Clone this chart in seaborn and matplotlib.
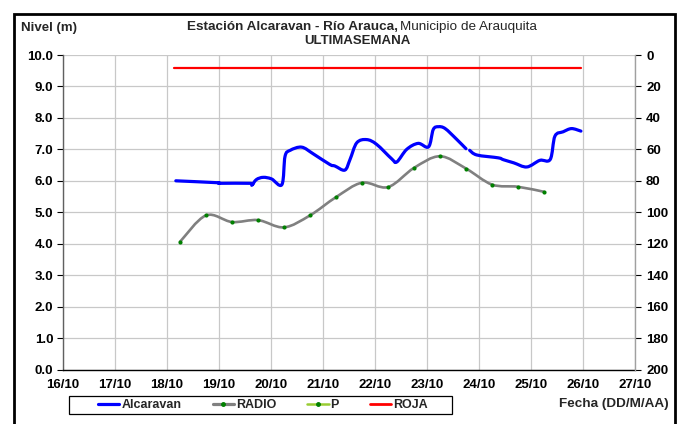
import numpy as np
import matplotlib
matplotlib.use("Agg")
import matplotlib.pyplot as plt
from matplotlib.path import Path
from matplotlib.patches import PathPatch, Rectangle
from matplotlib.lines import Line2D
import seaborn as sns

# Alcaravan level (m), day of October; the record has a short gap near 23.8
alc_days_a = [18.17, 18.96, 19.02, 19.60, 19.63, 19.72, 19.85, 20.01, 20.21, 20.27,
              20.37, 20.59, 20.81, 21.13, 21.23, 21.42, 21.52, 21.65, 21.84, 22.03,
              22.32, 22.42, 22.61, 22.83, 23.03, 23.12, 23.22, 23.35, 23.57, 23.75]
alc_vals_a = [6.00, 5.94, 5.92, 5.92, 5.86, 6.04, 6.11, 6.06, 5.88, 6.78,
              6.97, 7.07, 6.86, 6.52, 6.47, 6.34, 6.68, 7.21, 7.31, 7.16,
              6.70, 6.60, 7.00, 7.19, 7.08, 7.63, 7.72, 7.66, 7.32, 7.02]
alc_days_b = [23.82, 23.96, 24.37, 24.47, 24.67, 24.92, 25.17, 25.37, 25.46, 25.62,
              25.78, 25.96]
alc_vals_b = [6.97, 6.82, 6.73, 6.67, 6.57, 6.44, 6.65, 6.68, 7.42, 7.56,
              7.66, 7.58]

# RADIO readings (P points)
radio_days = [18.25, 18.75, 19.25, 19.75, 20.25, 20.75, 21.25, 21.75,
              22.25, 22.75, 23.25, 23.75, 24.25, 24.75, 25.25]
radio_vals = [4.06, 4.90, 4.69, 4.75, 4.52, 4.90, 5.48, 5.94,
              5.80, 6.41, 6.78, 6.39, 5.88, 5.81, 5.65]

# Red alert threshold (ROJA)
roja_days = [18.13, 25.96]
roja_vals = [9.6, 9.6]

day_ticks = list(range(16, 28))
day_labels = [f"{d}/10" for d in day_ticks]
level_ticks = [i * 1.0 for i in range(11)]
precip_ticks = list(range(0, 201, 20))

BLUE = "#0000FF"
GRAY = "#808080"
GREEN = "#008000"
LGREEN = "#99CC33"
RED = "#FF0000"

sns.set_style("white")
plt.rcParams["font.family"] = ["Liberation Sans", "DejaVu Sans"]
plt.rcParams["font.weight"] = "bold"


def smooth_path(xs, ys):
    """Cubic Bezier path through the points (smoothed-line style)."""
    pts = np.column_stack([xs, ys]).astype(float)
    n = len(pts)
    verts = [pts[0]]
    codes = [Path.MOVETO]
    for i in range(n - 1):
        p0 = pts[i - 1] if i > 0 else pts[i]
        p1 = pts[i]
        p2 = pts[i + 1]
        p3 = pts[i + 2] if i + 2 < n else pts[i + 1]
        c1 = p1 + (p2 - p0) / 6.0
        c2 = p2 - (p3 - p1) / 6.0
        verts += [c1, c2, p2]
        codes += [Path.CURVE4] * 3
    return Path(verts, codes)


fig = plt.figure(figsize=(6.81, 4.24), dpi=100)
ax = fig.add_axes([63 / 681, 1 - 369.5 / 424, (635 - 63) / 681, (369.5 - 55) / 424])

# Threshold line
sns.lineplot(x=roja_days, y=roja_vals, ax=ax, color=RED, linewidth=1.6,
             legend=False, zorder=3)

# Smoothed series
for xs, ys in [(alc_days_a, alc_vals_a), (alc_days_b, alc_vals_b)]:
    ax.add_patch(PathPatch(smooth_path(xs, ys), fill=False, edgecolor=BLUE,
                           linewidth=2.3, capstyle="round", joinstyle="round", zorder=4))
ax.add_patch(PathPatch(smooth_path(radio_days, radio_vals), fill=False, edgecolor=GRAY,
                       linewidth=1.9, capstyle="round", joinstyle="round", zorder=3))
sns.scatterplot(x=radio_days, y=radio_vals, ax=ax, color=GREEN, s=9,
                edgecolor=GREEN, linewidth=0, zorder=5, legend=False)

ax.set_xlim(16, 27)
ax.set_ylim(0, 10)
ax.set_xticks(day_ticks)
ax.set_xticklabels(day_labels)
ax.set_yticks(level_ticks)
ax.set_yticklabels([f"{v:.1f}" for v in level_ticks])
ax.grid(True, color="#C8C8C8", linewidth=0.9)
ax.set_axisbelow(True)
ax.tick_params(axis="both", direction="out", length=4, width=0.8, colors="black",
               labelsize=9.5, pad=3)
for lab in ax.get_xticklabels() + ax.get_yticklabels():
    lab.set_fontweight("bold")
ax.spines["left"].set_color("#606060")
ax.spines["left"].set_linewidth(1.0)
ax.spines["bottom"].set_color("black")
ax.spines["bottom"].set_linewidth(1.0)
ax.spines["top"].set_visible(False)
ax.spines["right"].set_visible(False)
ax.set_xlabel("")
ax.set_ylabel("")

ax2 = ax.twinx()
ax2.set_ylim(200, 0)
ax2.set_yticks(precip_ticks)
ax2.set_yticklabels([str(v) for v in precip_ticks])
ax2.tick_params(axis="y", direction="out", length=4, width=0.8, colors="black",
                labelsize=9.5, pad=4)
for lab in ax2.get_yticklabels():
    lab.set_fontweight("bold")
ax2.spines["right"].set_color("#A0A0A0")
ax2.spines["right"].set_linewidth(1.0)
for s in ["left", "top", "bottom"]:
    ax2.spines[s].set_visible(False)
ax2.grid(False)

# Titles
fig.text(21 / 681, 1 - 28 / 424, "Nivel (m)", fontsize=9.5, fontweight="bold",
         ha="left", va="center")
fig.text(398 / 681, 1 - 27 / 424, "Estación Alcaravan - Río Arauca,",
         fontsize=9.7, fontweight="bold", ha="right", va="center")
fig.text(400 / 681, 1 - 27 / 424, "Municipio de Arauquita", fontsize=9.7,
         fontweight="normal", ha="left", va="center")
fig.text(357 / 681, 1 - 41 / 424, "ULTIMASEMANA", fontsize=9.5, fontweight="bold",
         ha="center", va="center")
fig.text(669 / 681, 1 - 404 / 424, "Fecha (DD/M/AA)", fontsize=9.7, fontweight="bold",
         ha="right", va="center")

# Legend (entries without frame; box drawn separately)
handles = [
    Line2D([], [], color=BLUE, linewidth=2.3),
    Line2D([], [], color=GRAY, linewidth=2.3, marker="o", markersize=2.5,
           markerfacecolor=GREEN, markeredgecolor=GREEN),
    Line2D([], [], color=LGREEN, linewidth=1.8, marker="o", markersize=2.5,
           markerfacecolor=GREEN, markeredgecolor=GREEN),
    Line2D([], [], color=RED, linewidth=2.0),
]
fig.legend(handles, ["Alcaravan", "RADIO", "P", "ROJA"], ncol=4,
           loc="center", bbox_to_anchor=(263 / 681, 1 - 405 / 424),
           frameon=False, handlelength=1.7, handletextpad=0.15,
           columnspacing=2.5, borderpad=0.0,
           prop={"weight": "bold", "size": 9})
fig.patches.append(Rectangle((69 / 681, 1 - 414 / 424), (452 - 69) / 681, 18 / 424,
                             transform=fig.transFigure, fill=False, edgecolor="black",
                             linewidth=0.9))

# Outer frame
fig.patches.append(Rectangle((14 / 681, -0.05), (675 - 14) / 681, 1 - 14 / 424 + 0.05,
                             transform=fig.transFigure, fill=False, edgecolor="black",
                             linewidth=2.0))

fig.savefig("out.png", dpi=100)
